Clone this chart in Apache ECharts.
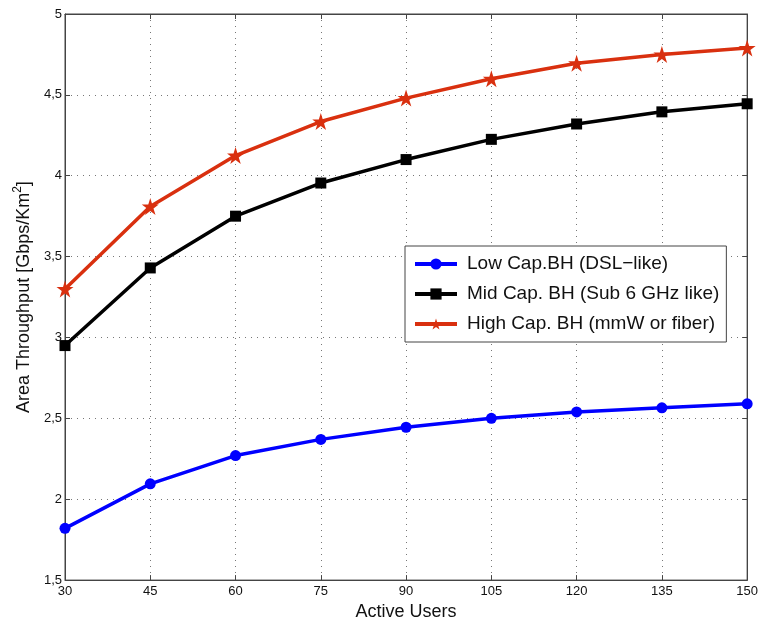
<!DOCTYPE html>
<html><head><meta charset="utf-8">
<script src="https://cdn.jsdelivr.net/npm/echarts@6/dist/echarts.min.js"></script>
<style>html,body{margin:0;padding:0;background:#fff}#c{width:761px;height:626px}</style>
</head><body><div id="c"></div>
<script>
const users = [30, 45, 60, 75, 90, 105, 120, 135, 150];
const lowCap = [1.82, 2.095, 2.27, 2.37, 2.445, 2.50, 2.54, 2.565, 2.59];
const midCap = [2.95, 3.43, 3.75, 3.955, 4.10, 4.225, 4.32, 4.395, 4.445];
const highCap = [3.30, 3.81, 4.125, 4.335, 4.48, 4.60, 4.695, 4.75, 4.79];
const seriesNames = ['Low Cap.BH (DSL\u2212like)', 'Mid Cap. BH (Sub 6 GHz like)', 'High Cap. BH (mmW or fiber)'];

const star = 'path://M50,0 L61.17,34.63 L97.55,34.55 L68.07,55.87 L79.39,90.45 L50,69 L20.61,90.45 L31.93,55.87 L2.45,34.55 L38.83,34.63 Z';
const pair = arr => arr.map((v, i) => [users[i], v]);
const font = 'Liberation Sans, Arial, sans-serif';
const split = {show: true, lineStyle: {color: '#777', type: [1, 5], width: 1}};
const axisCol = '#444';
const tick = {show: true, inside: true, length: 5, lineStyle: {color: axisCol}};

const chart = echarts.init(document.getElementById('c'));
chart.setOption({
  animation: false,
  backgroundColor: '#fff',
  textStyle: {fontFamily: font},
  grid: {left: 65, right: 11, top: 14, bottom: 42, show: true, borderColor: axisCol, borderWidth: 1},
  xAxis: [{
    type: 'value', min: 30, max: 150, interval: 15,
    name: 'Active Users', nameLocation: 'middle', nameGap: 21,
    nameTextStyle: {fontSize: 18, color: '#111', fontFamily: font},
    axisLine: {show: true, lineStyle: {color: axisCol}},
    axisTick: tick,
    axisLabel: {fontSize: 13, color: '#111', margin: 5, fontFamily: font},
    splitLine: split
  }, {
    type: 'value', min: 30, max: 150, interval: 15, position: 'top',
    axisLine: {show: true, lineStyle: {color: axisCol}},
    axisTick: tick, axisLabel: {show: false}, splitLine: {show: false}
  }],
  yAxis: [{
    type: 'value', min: 1.5, max: 5, interval: 0.5,
    name: 'Area Throughput [Gbps/Km{sup|2}]', nameLocation: 'middle', nameGap: 27,
    nameTextStyle: {fontSize: 18, color: '#111', fontFamily: font,
      rich: {sup: {fontSize: 12, verticalAlign: 'top', lineHeight: 24, fontFamily: font, color: '#111'}}},
    axisLine: {show: true, lineStyle: {color: axisCol}},
    axisTick: tick,
    axisLabel: {fontSize: 13, color: '#111', margin: 3, fontFamily: font,
      formatter: v => String(v).replace('.', ',')},
    splitLine: split
  }, {
    type: 'value', min: 1.5, max: 5, interval: 0.5, position: 'right',
    axisLine: {show: true, lineStyle: {color: axisCol}},
    axisTick: tick, axisLabel: {show: false}, splitLine: {show: false}
  }],
  legend: {
    orient: 'vertical', left: 405, top: 246,
    padding: [8, 7, 8, 8], itemGap: 10, itemWidth: 42, itemHeight: 14,
    backgroundColor: '#fff', borderColor: axisCol, borderWidth: 1,
    lineStyle: {width: 4},
    textStyle: {fontSize: 19, lineHeight: 20, color: '#111', fontFamily: font, padding: [0, 0, 0, 5]},
    data: seriesNames
  },
  series: [
    {name: seriesNames[0], type: 'line', data: pair(lowCap), color: '#0000ff',
     lineStyle: {width: 3.5}, symbol: 'circle', symbolSize: 11, itemStyle: {color: '#0000ff'}},
    {name: seriesNames[1], type: 'line', data: pair(midCap), color: '#000',
     lineStyle: {width: 3.5}, symbol: 'rect', symbolSize: 11, itemStyle: {color: '#000'}},
    {name: seriesNames[2], type: 'line', data: pair(highCap), color: '#d9300f',
     lineStyle: {width: 3.5}, symbol: star, symbolSize: 17, itemStyle: {color: '#d9300f'}}
  ]
});
</script></body></html>
